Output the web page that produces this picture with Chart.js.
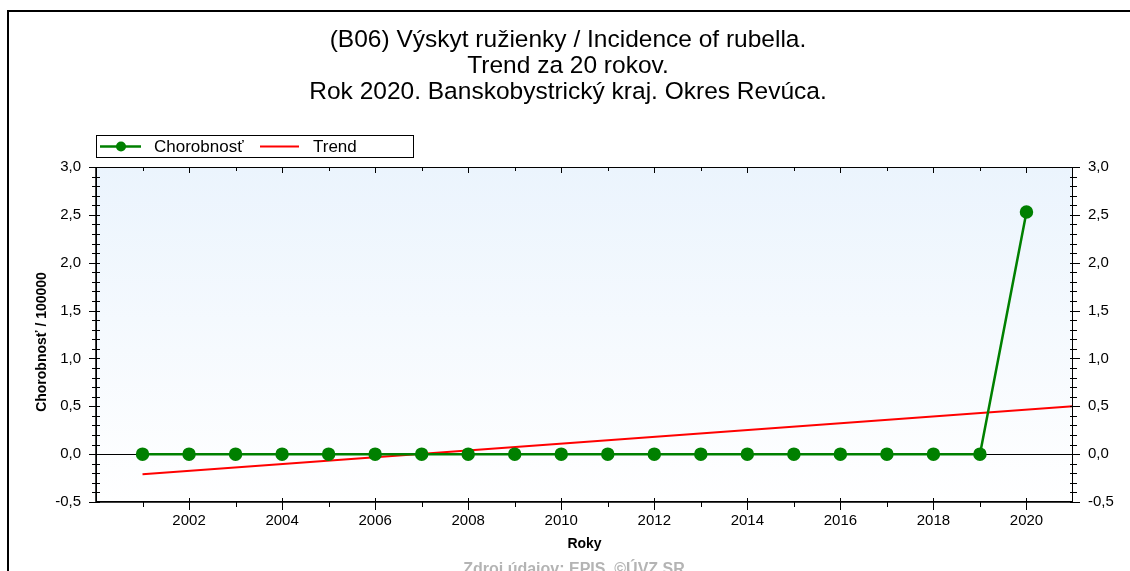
<!DOCTYPE html>
<html>
<head>
<meta charset="utf-8">
<script src="https://cdn.jsdelivr.net/npm/chart.js@4.4.1/dist/chart.umd.min.js"></script>
<style>
html, body { margin: 0; padding: 0; background: #fff; }
</style>
</head>
<body>
<canvas id="myChart" width="1130" height="571"></canvas>
<script>
// data
var years = [2001, 2002, 2003, 2004, 2005, 2006, 2007, 2008, 2009, 2010,
             2011, 2012, 2013, 2014, 2015, 2016, 2017, 2018, 2019, 2020];
var incidence = [0, 0, 0, 0, 0, 0, 0, 0, 0, 0,
                 0, 0, 0, 0, 0, 0, 0, 0, 0, 2.53];
var trendYears = [2001, 2021];
var trendValues = [-0.21, 0.50];
var xTickYears = [2002, 2004, 2006, 2008, 2010, 2012, 2014, 2016, 2018, 2020];
var yTicks = [-0.5, 0, 0.5, 1, 1.5, 2, 2.5, 3];
var titleLines = [
    '(B06) Výskyt ružienky / Incidence of rubella.',
    'Trend za 20 rokov.',
    'Rok 2020. Banskobystrický kraj. Okres Revúca.'
];
var legendLabels = ['Chorobnosť', 'Trend'];
var yTitle = 'Chorobnosť / 100000';
var sourceText = 'Zdroj údajov: EPIS, ©ÚVZ SR';

var FONT = '"Liberation Sans", Arial, sans-serif';

function commaLabel(v) {
    return Number(v).toFixed(1).replace('.', ',');
}

var decor = {
    id: 'decor',
    beforeDraw: function(chart) {
        var c = chart.ctx, a = chart.chartArea;
        c.save();
        c.fillStyle = '#fff';
        c.fillRect(0, 0, chart.width, chart.height);
        // outer frame
        c.strokeStyle = '#000';
        c.lineWidth = 2;
        c.beginPath();
        c.moveTo(8, chart.height);
        c.lineTo(8, 11);
        c.lineTo(chart.width, 11);
        c.stroke();
        // plot background
        var g = c.createLinearGradient(0, a.top, 0, a.bottom);
        g.addColorStop(0, '#ebf4fd');
        g.addColorStop(1, '#ffffff');
        c.fillStyle = g;
        c.fillRect(a.left, a.top, a.right - a.left, a.bottom - a.top);
        // zero line
        var y0 = Math.round(chart.scales.y.getPixelForValue(0)) + 0.5;
        c.strokeStyle = '#000';
        c.lineWidth = 1;
        c.beginPath();
        c.moveTo(a.left, y0);
        c.lineTo(a.right, y0);
        c.stroke();
        // title
        c.fillStyle = '#000';
        c.font = '24.5px ' + FONT;
        c.textAlign = 'center';
        c.textBaseline = 'middle';
        titleLines.forEach(function(t, i) {
            c.fillText(t, 568, 40 + i * 26);
        });
        // y axis title
        c.save();
        c.translate(42, 342);
        c.rotate(-Math.PI / 2);
        c.font = 'bold 14px ' + FONT;
        c.fillText(yTitle, 0, 0);
        c.restore();
        c.restore();
    },
    afterDraw: function(chart) {
        var c = chart.ctx, a = chart.chartArea;
        var xs = chart.scales.x, ys = chart.scales.y;
        c.save();
        c.strokeStyle = '#000';
        // axis frame
        c.lineWidth = 1;
        c.strokeRect(a.left + 0.5, a.top + 0.5, a.right - a.left - 1, a.bottom - a.top - 1);
        c.lineWidth = 1.5;
        c.beginPath();
        c.moveTo(a.left, a.top);
        c.lineTo(a.left, a.bottom);
        c.lineTo(a.right, a.bottom);
        c.stroke();
        // y ticks, left and right
        c.lineWidth = 1;
        c.beginPath();
        for (var k = -5; k <= 30; k++) {
            var py = Math.round(ys.getPixelForValue(k / 10)) + 0.5;
            var major = (k % 5 === 0);
            c.moveTo(a.left - (major ? 7 : 4), py);
            c.lineTo(a.left + 4, py);
            c.moveTo(a.right - 3, py);
            c.lineTo(a.right + (major ? 7 : 4), py);
        }
        // x ticks, bottom and top
        for (var yr = 2001; yr <= 2020; yr++) {
            var px = Math.round(xs.getPixelForValue(yr)) + 0.5;
            var maj = (yr % 2 === 0);
            c.moveTo(px, a.bottom - (maj ? 4 : 1));
            c.lineTo(px, a.bottom + (maj ? 8 : 5));
            c.moveTo(px, a.top);
            c.lineTo(px, a.top + (maj ? 6 : 4));
        }
        c.stroke();
        // legend
        var ds = chart.data.datasets;
        c.lineWidth = 1;
        c.strokeRect(96.5, 135.5, 317, 22);
        c.lineWidth = 2.5;
        c.strokeStyle = ds[0].borderColor;
        c.beginPath();
        c.moveTo(100, 146.5);
        c.lineTo(141, 146.5);
        c.stroke();
        c.fillStyle = ds[0].pointBackgroundColor;
        c.beginPath();
        c.arc(121, 146.5, 5, 0, Math.PI * 2);
        c.fill();
        c.strokeStyle = ds[1].borderColor;
        c.lineWidth = 2;
        c.beginPath();
        c.moveTo(260, 146.5);
        c.lineTo(299, 146.5);
        c.stroke();
        c.fillStyle = '#000';
        c.font = '17px ' + FONT;
        c.textAlign = 'left';
        c.textBaseline = 'middle';
        c.fillText(legendLabels[0], 154, 147);
        c.fillText(legendLabels[1], 313, 147);
        // source note
        c.fillStyle = '#b4b4b4';
        c.font = 'bold 16px ' + FONT;
        c.textAlign = 'center';
        c.fillText(sourceText, 574, 570);
        c.restore();
    }
};

var ctx = document.getElementById('myChart').getContext('2d');
var myChart = new Chart(ctx, {
    type: 'line',
    data: {
        datasets: [{
            label: legendLabels[0],
            data: years.map(function(y, i) { return {x: y, y: incidence[i]}; }),
            borderColor: '#008000',
            backgroundColor: '#008000',
            pointBackgroundColor: '#008000',
            pointBorderColor: '#008000',
            pointRadius: 5.5,
            pointHoverRadius: 5.5,
            borderWidth: 2.5,
            tension: 0,
            order: 1
        },
        {
            label: legendLabels[1],
            data: trendYears.map(function(y, i) { return {x: y, y: trendValues[i]}; }),
            borderColor: '#ff0000',
            backgroundColor: '#ff0000',
            pointRadius: 0,
            borderWidth: 2,
            tension: 0,
            order: 2
        }]
    },
    options: {
        responsive: false,
        animation: false,
        events: [],
        layout: {
            padding: {left: 8, right: 0, top: 167, bottom: 0}
        },
        plugins: {
            legend: {display: false},
            title: {display: false},
            tooltip: {enabled: false}
        },
        scales: {
            x: {
                type: 'linear',
                position: 'bottom',
                min: 2000,
                max: 2021,
                grid: {display: false},
                border: {display: false},
                afterFit: function(s) { s.height = 69; },
                afterBuildTicks: function(s) {
                    s.ticks = xTickYears.map(function(v) { return {value: v}; });
                },
                ticks: {
                    autoSkip: false,
                    maxRotation: 0,
                    padding: 2,
                    color: '#000',
                    font: {family: FONT, size: 15},
                    callback: function(v) { return String(v); }
                },
                title: {
                    display: true,
                    text: 'Roky',
                    color: '#000',
                    font: {family: FONT, size: 14, weight: 'bold'},
                    padding: {top: 0, bottom: 18}
                }
            },
            y: {
                position: 'left',
                min: -0.5,
                max: 3,
                grid: {display: false},
                border: {display: false},
                afterFit: function(s) { s.width = 88; },
                afterBuildTicks: function(s) {
                    s.ticks = yTicks.map(function(v) { return {value: v}; });
                },
                ticks: {
                    padding: 7,
                    color: '#000',
                    font: {family: FONT, size: 15},
                    callback: commaLabel
                }
            },
            y2: {
                position: 'right',
                min: -0.5,
                max: 3,
                grid: {display: false},
                border: {display: false},
                afterFit: function(s) { s.width = 57; },
                afterBuildTicks: function(s) {
                    s.ticks = yTicks.map(function(v) { return {value: v}; });
                },
                ticks: {
                    padding: 7,
                    color: '#000',
                    font: {family: FONT, size: 15},
                    callback: commaLabel
                }
            }
        }
    },
    plugins: [decor]
});
</script>
</body>
</html>
